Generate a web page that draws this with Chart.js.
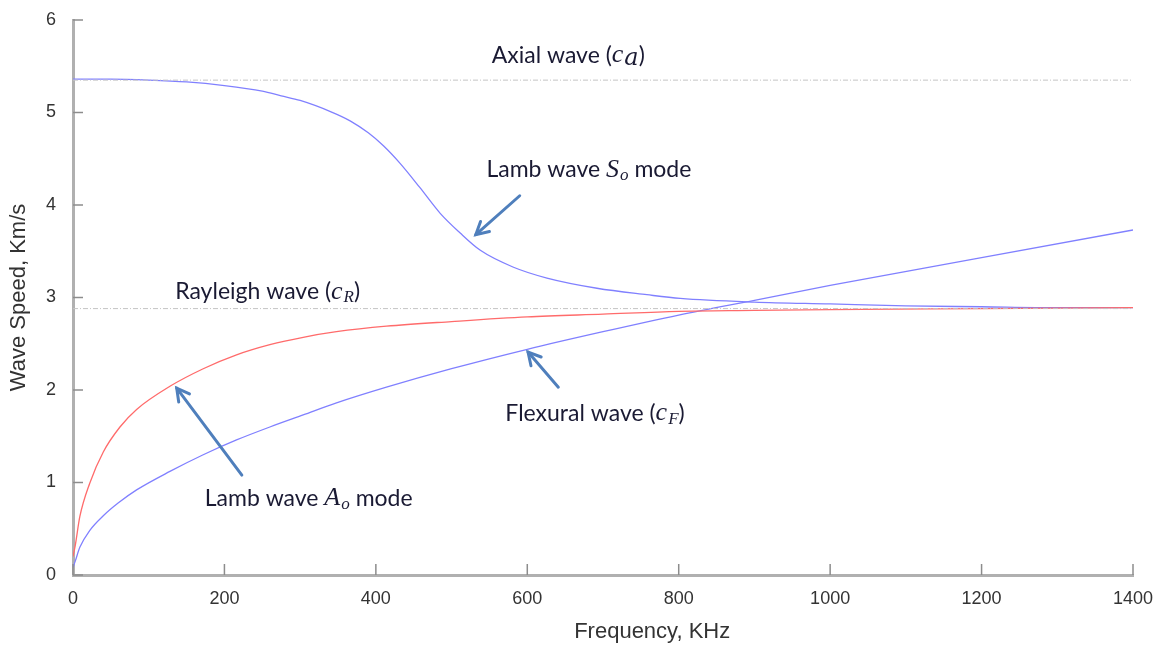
<!DOCTYPE html>
<html>
<head>
<meta charset="utf-8">
<script src="https://cdn.jsdelivr.net/npm/chart.js@4.4.1/dist/chart.umd.min.js"></script>
<style>
  html, body { margin: 0; padding: 0; background: #fff; }
  #wrap { width: 1165px; height: 647px; }
</style>
</head>
<body>
<div id="wrap"><canvas id="chart" width="1165" height="647"></canvas></div>
<script>
// frequency (KHz) / speed (Km/s)
const s0Freq  = [0, 50, 100, 150, 200, 250, 275, 300, 340, 366, 390, 410, 432, 458, 485, 511, 538, 581, 626, 692, 758, 802, 900, 1000, 1100, 1200, 1300, 1400];
const s0Speed = [5.36, 5.36, 5.35, 5.33, 5.29, 5.23, 5.18, 5.13, 5.01, 4.91, 4.78, 4.64, 4.45, 4.19, 3.91, 3.70, 3.51, 3.33, 3.21, 3.10, 3.03, 2.99, 2.95, 2.93, 2.91, 2.90, 2.89, 2.89];

const a0Freq  = [0, 3, 9, 22, 40, 62, 84, 128, 172, 216, 260, 304, 348, 414, 500, 600, 700, 800, 900, 1000, 1200, 1400];
const a0Speed = [0.2, 0.32, 0.63, 0.99, 1.33, 1.60, 1.79, 2.04, 2.23, 2.38, 2.49, 2.57, 2.63, 2.69, 2.74, 2.79, 2.82, 2.85, 2.86, 2.87, 2.88, 2.89];

const flexFreq  = [0, 3, 9, 22, 40, 60, 84, 128, 172, 216, 260, 304, 348, 414, 500, 600, 700, 800, 900, 1000, 1200, 1400];
const flexSpeed = [0.08, 0.15, 0.30, 0.48, 0.64, 0.78, 0.92, 1.12, 1.30, 1.46, 1.60, 1.73, 1.86, 2.03, 2.23, 2.44, 2.63, 2.81, 2.97, 3.13, 3.43, 3.73];

const axialSpeed = 5.35;
const rayleighSpeed = 2.88;

const xTicks = [0, 200, 400, 600, 800, 1000, 1200, 1400];
const yTicks = [0, 1, 2, 3, 4, 5, 6];
const xTitle = 'Frequency, KHz';

// labels + arrows, in data coordinates
const labels = [
  { x: 553, y: 5.62, parts: [['Axial wave (', 'n'], ['c', 'i'], ['a', 'isub2'], [')', 'n']] },
  { x: 546, y: 4.38, parts: [['Lamb wave ', 'n'], ['S', 'i'], ['o', 'isub'], [' mode', 'n']] },
  { x: 135, y: 3.06, parts: [['Rayleigh wave (', 'n'], ['c', 'i'], ['R', 'isub'], [')', 'n']] },
  { x: 571, y: 1.75, parts: [['Flexural wave (', 'n'], ['c', 'i'], ['F', 'isub'], [')', 'n']] },
  { x: 174, y: 0.83, parts: [['Lamb wave ', 'n'], ['A', 'i'], ['o', 'isub'], [' mode', 'n']] }
];
const arrows = [
  { x1: 590, y1: 4.10, x2: 532, y2: 3.68 },
  { x1: 641, y1: 2.03, x2: 601, y2: 2.41 },
  { x1: 223, y1: 1.08, x2: 137, y2: 2.02 }
];

function pts(xs, ys) { return xs.map((x, i) => ({ x: x, y: ys[i] })); }

const fonts = {
  n: '23px Lato, "Open Sans", sans-serif',
  i: 'italic 26px "Liberation Serif", "DejaVu Serif", serif',
  isub: 'italic 17px "Liberation Serif", "DejaVu Serif", serif',
  isub2: 'italic 24px "DejaVu Serif", "Liberation Serif", serif'
};
const offs = { n: 0, i: 0, isub: 6, isub2: 4 };

const annotations = {
  id: 'annotations',
  afterDraw(chart) {
    const ctx = chart.ctx;
    const xs = chart.scales.x, ys = chart.scales.y;
    ctx.save();
    // inward ticks
    ctx.strokeStyle = '#8c8c8c';
    ctx.lineWidth = 1.5;
    const b = ys.getPixelForValue(0), l = xs.getPixelForValue(0);
    xTicks.forEach(v => {
      const px = xs.getPixelForValue(v);
      ctx.beginPath(); ctx.moveTo(px, b); ctx.lineTo(px, b - 11); ctx.stroke();
    });
    yTicks.forEach(v => {
      const py = ys.getPixelForValue(v);
      ctx.beginPath(); ctx.moveTo(l, py); ctx.lineTo(l + 10, py); ctx.stroke();
    });
    // x axis title sits right of centre in the original
    ctx.fillStyle = '#333';
    ctx.font = '22px "Liberation Sans", Arial';
    ctx.textAlign = 'center';
    ctx.textBaseline = 'middle';
    ctx.fillText(xTitle, xs.getPixelForValue(765), b + 57);
    // text
    ctx.fillStyle = '#1a1a33';
    ctx.textAlign = 'left';
    labels.forEach(lb => {
      let px = xs.getPixelForValue(lb.x);
      const py = ys.getPixelForValue(lb.y);
      lb.parts.forEach(p => {
        ctx.font = fonts[p[1]];
        ctx.fillText(p[0], px, py + offs[p[1]]);
        px += ctx.measureText(p[0]).width + (p[1] === 'i' ? 1 : 0);
      });
    });
    // arrows
    ctx.strokeStyle = '#4f7fbc';
    ctx.lineWidth = 3;
    ctx.lineCap = 'round';
    arrows.forEach(a => {
      const x1 = xs.getPixelForValue(a.x1), y1 = ys.getPixelForValue(a.y1);
      const x2 = xs.getPixelForValue(a.x2), y2 = ys.getPixelForValue(a.y2);
      const ang = Math.atan2(y2 - y1, x2 - x1);
      ctx.beginPath(); ctx.moveTo(x1, y1); ctx.lineTo(x2, y2); ctx.stroke();
      ctx.beginPath();
      ctx.moveTo(x2 - 14 * Math.cos(ang - 0.5), y2 - 14 * Math.sin(ang - 0.5));
      ctx.lineTo(x2, y2);
      ctx.lineTo(x2 - 14 * Math.cos(ang + 0.5), y2 - 14 * Math.sin(ang + 0.5));
      ctx.stroke();
    });
    ctx.restore();
  }
};

const lineBase = { pointRadius: 0, borderWidth: 1.3, fill: false, cubicInterpolationMode: 'monotone' };
const axisFont = { family: '"Liberation Sans", Arial', size: 18 };

new Chart(document.getElementById('chart'), {
  type: 'line',
  data: {
    datasets: [
      { ...lineBase, label: 'Axial', data: pts([0, 1400], [axialSpeed, axialSpeed]), borderColor: '#c4c4c4', borderWidth: 1, borderDash: [5, 2, 1, 2] },
      { ...lineBase, label: 'Rayleigh', data: pts([0, 1400], [rayleighSpeed, rayleighSpeed]), borderColor: '#c4c4c4', borderWidth: 1, borderDash: [5, 2, 1, 2] },
      { ...lineBase, label: 'A0', data: pts(a0Freq, a0Speed), borderColor: '#ff6b6b' },
      { ...lineBase, label: 'Flexural', data: pts(flexFreq, flexSpeed), borderColor: '#8080ff' },
      { ...lineBase, label: 'S0', data: pts(s0Freq, s0Speed), borderColor: '#8080ff' }
    ]
  },
  options: {
    responsive: false,
    animation: false,
    layout: { padding: { top: 20, right: 32, left: 0, bottom: 0 } },
    plugins: { legend: { display: false }, tooltip: { enabled: false } },
    scales: {
      x: {
        type: 'linear', min: 0, max: 1400,
        afterBuildTicks: s => { s.ticks = xTicks.map(v => ({ value: v })); },
        afterFit: s => { s.height = 72; },
        grid: { display: false },
        border: { display: true, color: '#b0b0b0', width: 3 },
        ticks: { padding: 5, color: '#333', font: axisFont, maxRotation: 0, callback: v => String(v) }
      },
      y: {
        min: 0, max: 6,
        afterBuildTicks: s => { s.ticks = yTicks.map(v => ({ value: v })); },
        afterFit: s => { s.width = 73; },
        grid: { display: false },
        border: { display: true, color: '#b0b0b0', width: 3 },
        ticks: { padding: 9, color: '#333', font: axisFont, callback: v => String(v) },
        title: { display: true, text: 'Wave Speed, Km/s', color: '#333', padding: { top: 6, bottom: 0 }, font: { family: '"Liberation Sans", Arial', size: 22 } }
      }
    }
  },
  plugins: [annotations]
});
</script>
</body>
</html>
